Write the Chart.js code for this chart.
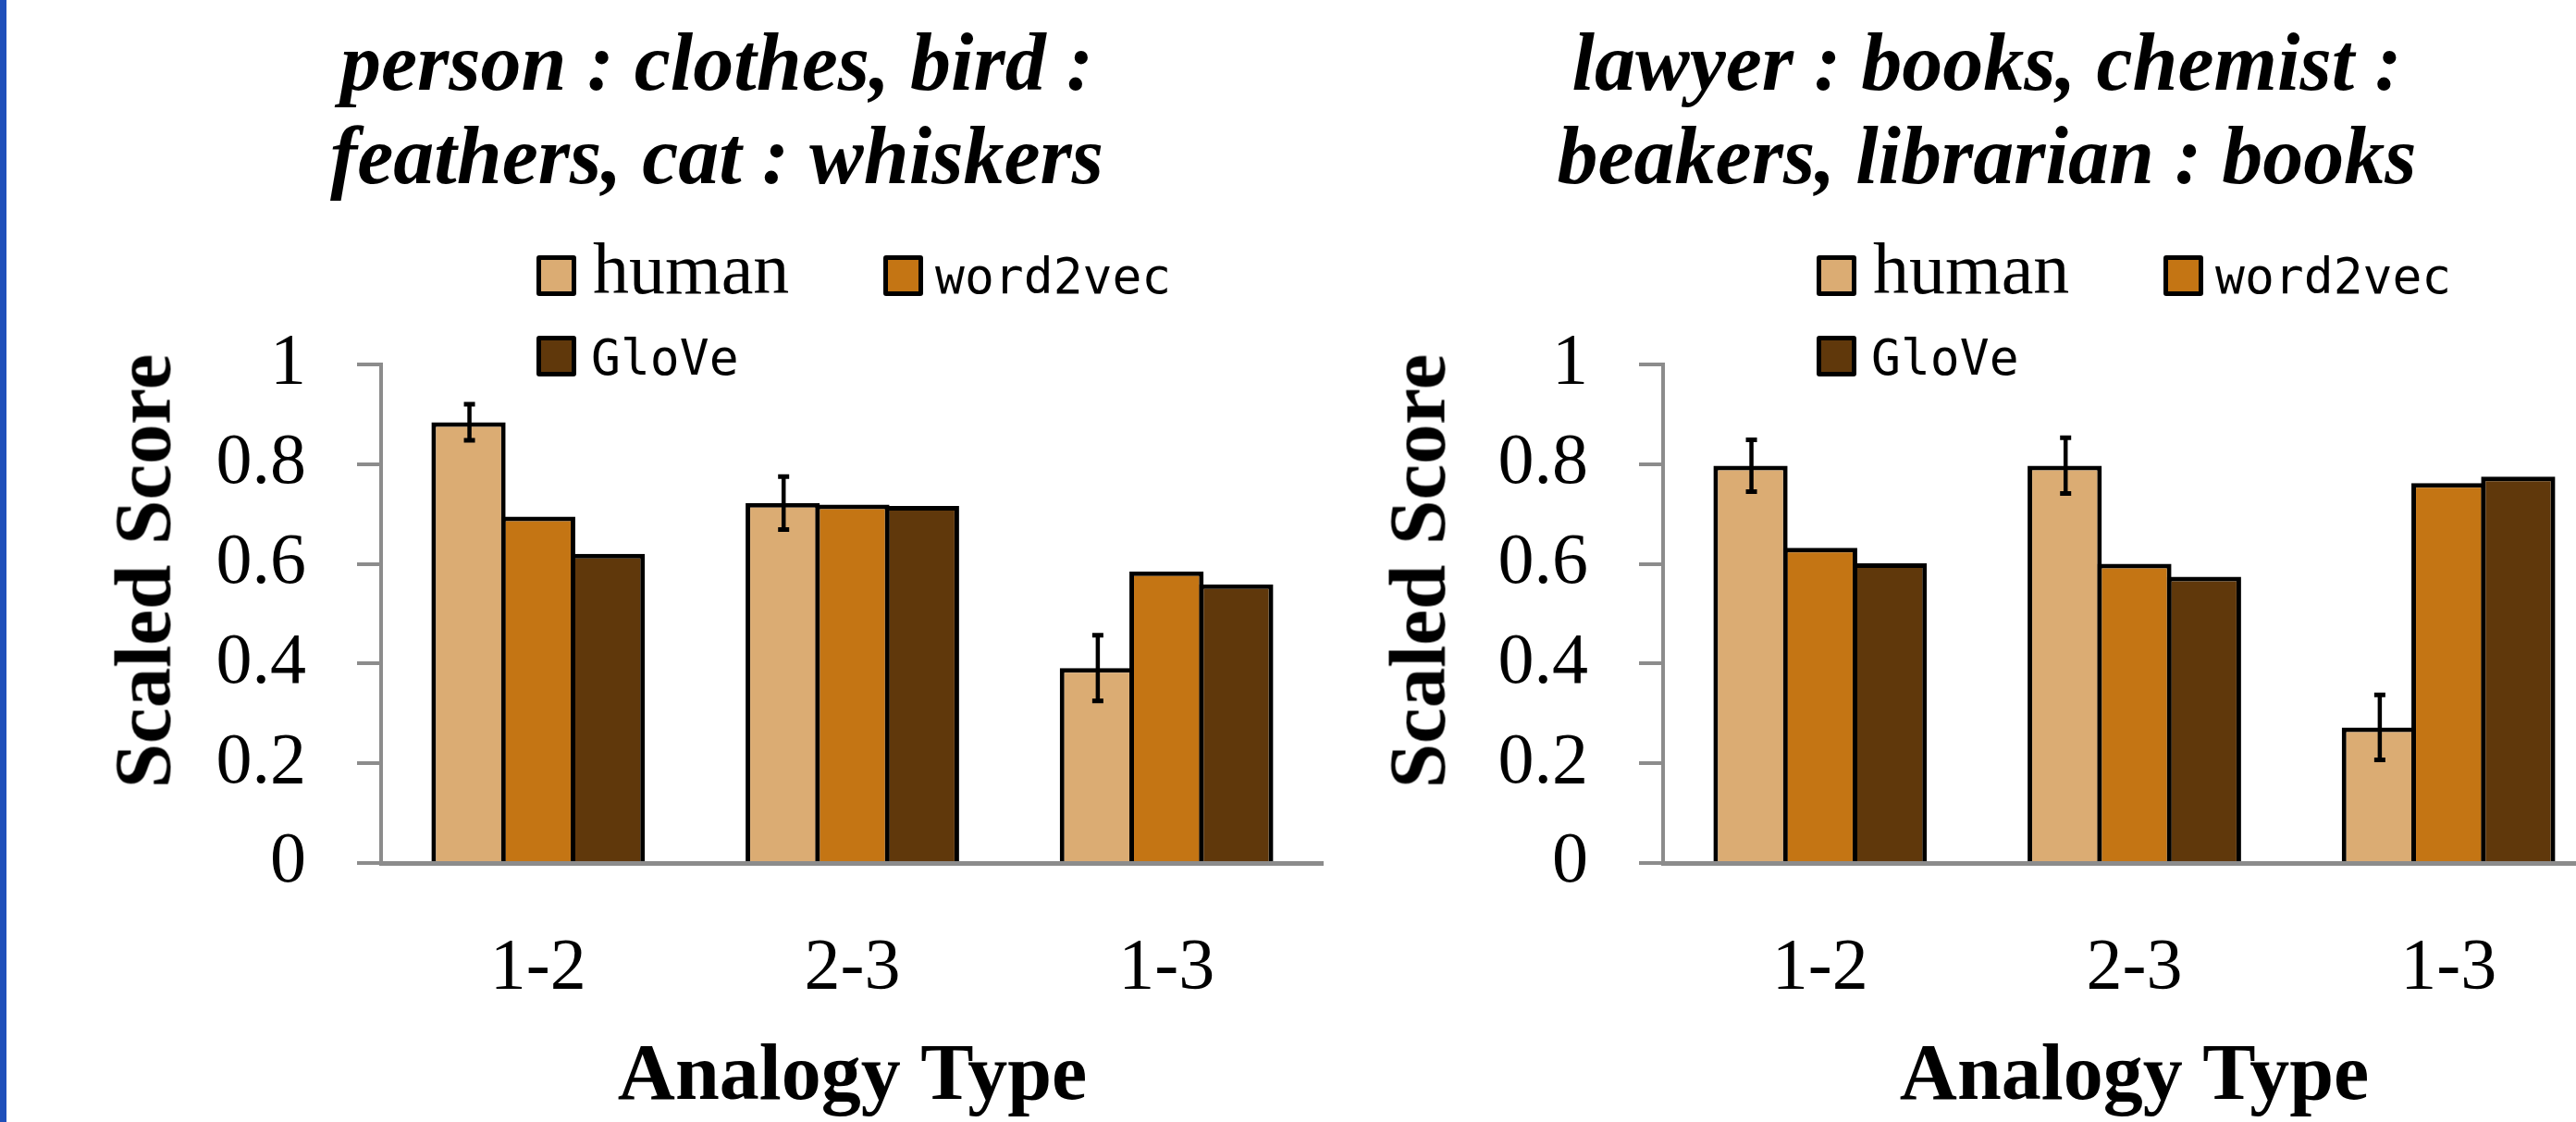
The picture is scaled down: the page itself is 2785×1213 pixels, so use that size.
<!DOCTYPE html>
<html>
<head>
<meta charset="utf-8">
<script src="https://cdn.jsdelivr.net/npm/chart.js@4.4.1/dist/chart.umd.min.js"></script>
<style>
  html, body { margin: 0; padding: 0; width: 2785px; height: 1213px; overflow: hidden; background: #fff; }
  #stripe { position: absolute; left: 0; top: 0; width: 7px; height: 1213px; background: #1f4fba; }
  canvas { position: absolute; top: 0; }
  .title { position: absolute; top: 17px; width: 1300px; text-align: center; color: #000;
           font-family: "Liberation Serif"; font-style: italic; font-weight: bold; font-size: 88px;
           line-height: 101px; white-space: nowrap; }
  .ytitle { position: absolute; width: 700px; height: 87px; line-height: 87px; text-align: center;
            font-family: "Liberation Serif"; font-weight: bold; font-size: 87px; color: #000;
            transform: rotate(-90deg); white-space: nowrap; }
  .lbox { position: absolute; width: 43px; height: 44px; box-sizing: border-box; border: 5px solid #000; border-radius: 3px; }
  .ltext { position: absolute; white-space: nowrap; color: #000; }
</style>
</head>
<body>
<div id="stripe"></div>
<canvas id="leftChart" width="1431" height="1213" style="left:0px"></canvas>
<canvas id="rightChart" width="1431" height="1213" style="left:1386px"></canvas>
<script>
// data
const categories = ["1-2", "2-3", "1-3"];
const seriesNames = ["human", "word2vec", "GloVe"];
const yTickLabels = ["0", "0.2", "0.4", "0.6", "0.8", "1"];

const leftTitle = ["person : clothes, bird :", "feathers, cat : whiskers"];
const leftHuman = [0.884, 0.722, 0.391];
const leftHumanErr = [0.036, 0.053, 0.066];
const leftWord2vec = [0.695, 0.719, 0.585];
const leftGlove = [0.620, 0.716, 0.559];

const rightTitle = ["lawyer : books, chemist :", "beakers, librarian : books"];
const rightHuman = [0.797, 0.797, 0.272];
const rightHumanErr = [0.052, 0.056, 0.065];
const rightWord2vec = [0.632, 0.600, 0.762];
const rightGlove = [0.601, 0.574, 0.775];

// styles
const seriesColors = ["#dbac73", "#c47514", "#60380b"];
const legendFonts = [
  {family: "Liberation Serif", size: 78, asc: 0.891, desc: 0.216},
  {family: "DejaVu Sans Mono", size: 53, asc: 0.928, desc: 0.236},
  {family: "DejaVu Sans Mono", size: 53, asc: 0.928, desc: 0.236}
];
const axisGray = "#8c8c8c";

const errorBars = {
  id: "errorBars",
  afterDatasetsDraw(chart, args, opts) {
    const meta = chart.getDatasetMeta(0);
    const yScale = chart.scales.y;
    const vals = chart.data.datasets[0].data;
    const ctx = chart.ctx;
    ctx.save();
    ctx.strokeStyle = "#000";
    meta.data.forEach((bar, i) => {
      const top = yScale.getPixelForValue(vals[i] + opts.errors[i]);
      const bot = yScale.getPixelForValue(vals[i] - opts.errors[i]);
      const x = bar.x + 1;
      ctx.lineWidth = 4.5;
      ctx.beginPath();
      ctx.moveTo(x, top);
      ctx.lineTo(x, bot);
      ctx.stroke();
      ctx.lineWidth = 5;
      ctx.beginPath();
      ctx.moveTo(x - 6, top); ctx.lineTo(x + 6, top);
      ctx.moveTo(x - 6, bot); ctx.lineTo(x + 6, bot);
      ctx.stroke();
    });
    ctx.restore();
  }
};

function makeChart(id, human, humanErr, w2v, glove) {
  const values = [human, w2v, glove];
  return new Chart(document.getElementById(id), {
    type: "bar",
    data: {
      labels: categories,
      datasets: seriesNames.map((name, i) => ({
        label: name,
        data: values[i],
        backgroundColor: seriesColors[i],
        borderColor: "#000",
        borderWidth: 5,
        borderSkipped: "start",
        categoryPercentage: 0.665,
        barPercentage: 1.066
      }))
    },
    plugins: [errorBars],
    options: {
      responsive: false,
      animation: false,
      devicePixelRatio: 1,
      layout: { padding: { top: 394, left: 0, right: 0, bottom: 0 } },
      plugins: {
        legend: { display: false },
        tooltip: { enabled: false },
        errorBars: { errors: humanErr }
      },
      scales: {
        x: {
          grid: { display: false },
          border: { display: true, color: axisGray, width: 5, z: 1 },
          ticks: { color: "#000", padding: 60, maxRotation: 0,
                   font: { family: "Liberation Serif", size: 78 } },
          title: { display: true, text: "Analogy Type", color: "#000",
                   padding: { top: 0, bottom: 4 },
                   font: { family: "Liberation Serif", size: 86, weight: "bold", lineHeight: 1 } },
          afterFit: (scale) => { scale.height = 280; }
        },
        y: {
          min: 0, max: 1,
          grid: { display: true, drawOnChartArea: false, drawTicks: true, tickLength: 26,
                  color: axisGray, lineWidth: 4 },
          border: { display: true, color: axisGray, width: 4 },
          ticks: { stepSize: 0.2, color: "#000", padding: 55,
                   font: { family: "Liberation Serif", size: 78 },
                   callback: (v, i) => yTickLabels[i] },
          afterFit: (scale) => { scale.width = 412; }
        }
      }
    }
  });
}

function addText(cls, text, x, y, css) {
  const d = document.createElement("div");
  d.className = cls;
  d.textContent = text;
  d.style.left = x + "px";
  d.style.top = y + "px";
  Object.assign(d.style, css || {});
  document.body.appendChild(d);
  return d;
}

function addTitle(lines, centerX) {
  const d = document.createElement("div");
  d.className = "title";
  d.style.left = (centerX - 650) + "px";
  lines.forEach(l => {
    const ln = document.createElement("div");
    ln.textContent = l;
    d.appendChild(ln);
  });
  document.body.appendChild(d);
}

function addLegend(offset) {
  // [box x, text x, box top, baseline]
  const spots = [[580, 641, 276, 317], [955, 1011, 276, 317], [580, 639, 363, 405]];
  seriesNames.forEach((name, i) => {
    const [bx, tx, by, base] = spots[i];
    const box = document.createElement("div");
    box.className = "lbox";
    box.style.left = (bx + offset) + "px";
    box.style.top = by + "px";
    box.style.background = seriesColors[i];
    document.body.appendChild(box);
    const f = legendFonts[i];
    const lh = f.size;
    const top = base - ((lh - (f.asc + f.desc) * f.size) / 2 + f.asc * f.size);
    addText("ltext", name, tx + offset, top, {
      fontFamily: '"' + f.family + '"', fontSize: f.size + "px", lineHeight: lh + "px"
    });
  });
}

function addYTitle(cx, cy) {
  addText("ytitle", "Scaled Score", cx - 350, cy - 43.5);
}

makeChart("leftChart", leftHuman, leftHumanErr, leftWord2vec, leftGlove);
makeChart("rightChart", rightHuman, rightHumanErr, rightWord2vec, rightGlove);
addTitle(leftTitle, 775);
addTitle(rightTitle, 2148);
addLegend(0);
addLegend(1384);
addYTitle(154, 617.5);
addYTitle(1532, 617.5);
</script>
</body>
</html>
